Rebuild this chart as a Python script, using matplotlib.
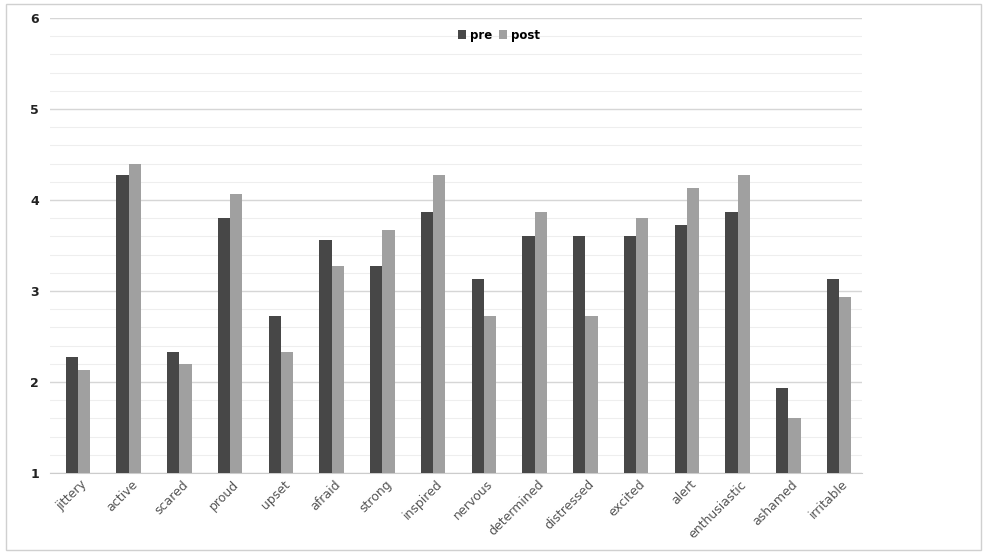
import matplotlib.pyplot as plt
from matplotlib.patches import Rectangle
from matplotlib.ticker import MultipleLocator
import numpy as np

categories = ['jittery', 'active', 'scared', 'proud', 'upset', 'afraid', 'strong',
              'inspired', 'nervous', 'determined', 'distressed', 'excited', 'alert',
              'enthusiastic', 'ashamed', 'irritable']
pre = [2.27, 4.27, 2.33, 3.80, 2.73, 3.56, 3.27, 3.87, 3.13, 3.60, 3.60, 3.60,
       3.73, 3.87, 1.93, 3.13]
post = [2.13, 4.40, 2.20, 4.07, 2.33, 3.27, 3.67, 4.27, 2.73, 3.87, 2.73, 3.80,
        4.13, 4.27, 1.60, 2.93]

fig = plt.figure(figsize=(9.86, 5.54), dpi=100)
ax = fig.add_axes([50 / 986, 1 - 473 / 554, 812 / 986, 455 / 554])

x = np.arange(len(categories))
w = 0.24
shift = 0.05
ax.bar(x + shift - w / 2, pre, w, color='#474747', label='pre', zorder=3)
ax.bar(x + shift + w / 2, post, w, color='#a0a0a0', label='post', zorder=3)

ax.set_ylim(1, 6)
ax.set_xlim(-0.5, len(categories) - 0.5)
ax.yaxis.set_major_locator(MultipleLocator(1))
ax.yaxis.set_minor_locator(MultipleLocator(0.2))
ax.grid(axis='y', which='major', color='#d6d6d6', linewidth=1.0, zorder=0)
ax.grid(axis='y', which='minor', color='#eeeeee', linewidth=0.8, zorder=0)

for s in ['top', 'right', 'left']:
    ax.spines[s].set_visible(False)
ax.spines['bottom'].set_color('#cccccc')
ax.tick_params(axis='both', which='both', length=0)
ax.tick_params(axis='y', pad=8)

ax.set_yticks([1, 2, 3, 4, 5, 6])
ax.set_yticklabels(['1', '2', '3', '4', '5', '6'], fontsize=9, fontweight='bold',
                   color='#222222')
ax.set_xticks(x + 0.1)
ax.set_xticklabels(categories, rotation=45, ha='right', rotation_mode='anchor',
                   fontsize=9, color='#555555')

ax.legend(loc='upper center', bbox_to_anchor=(0.553, 1.0), ncol=2, frameon=False,
          handlelength=0.7, handleheight=0.7, handletextpad=0.3,
          columnspacing=0.6, prop={'weight': 'bold', 'size': 8.5})

fig.patches.append(Rectangle((6 / 986, 4 / 554), 975 / 986, 546 / 554,
                             transform=fig.transFigure, fill=False,
                             edgecolor='#d0d0d0', linewidth=1))

fig.savefig('out.png', dpi=100)
